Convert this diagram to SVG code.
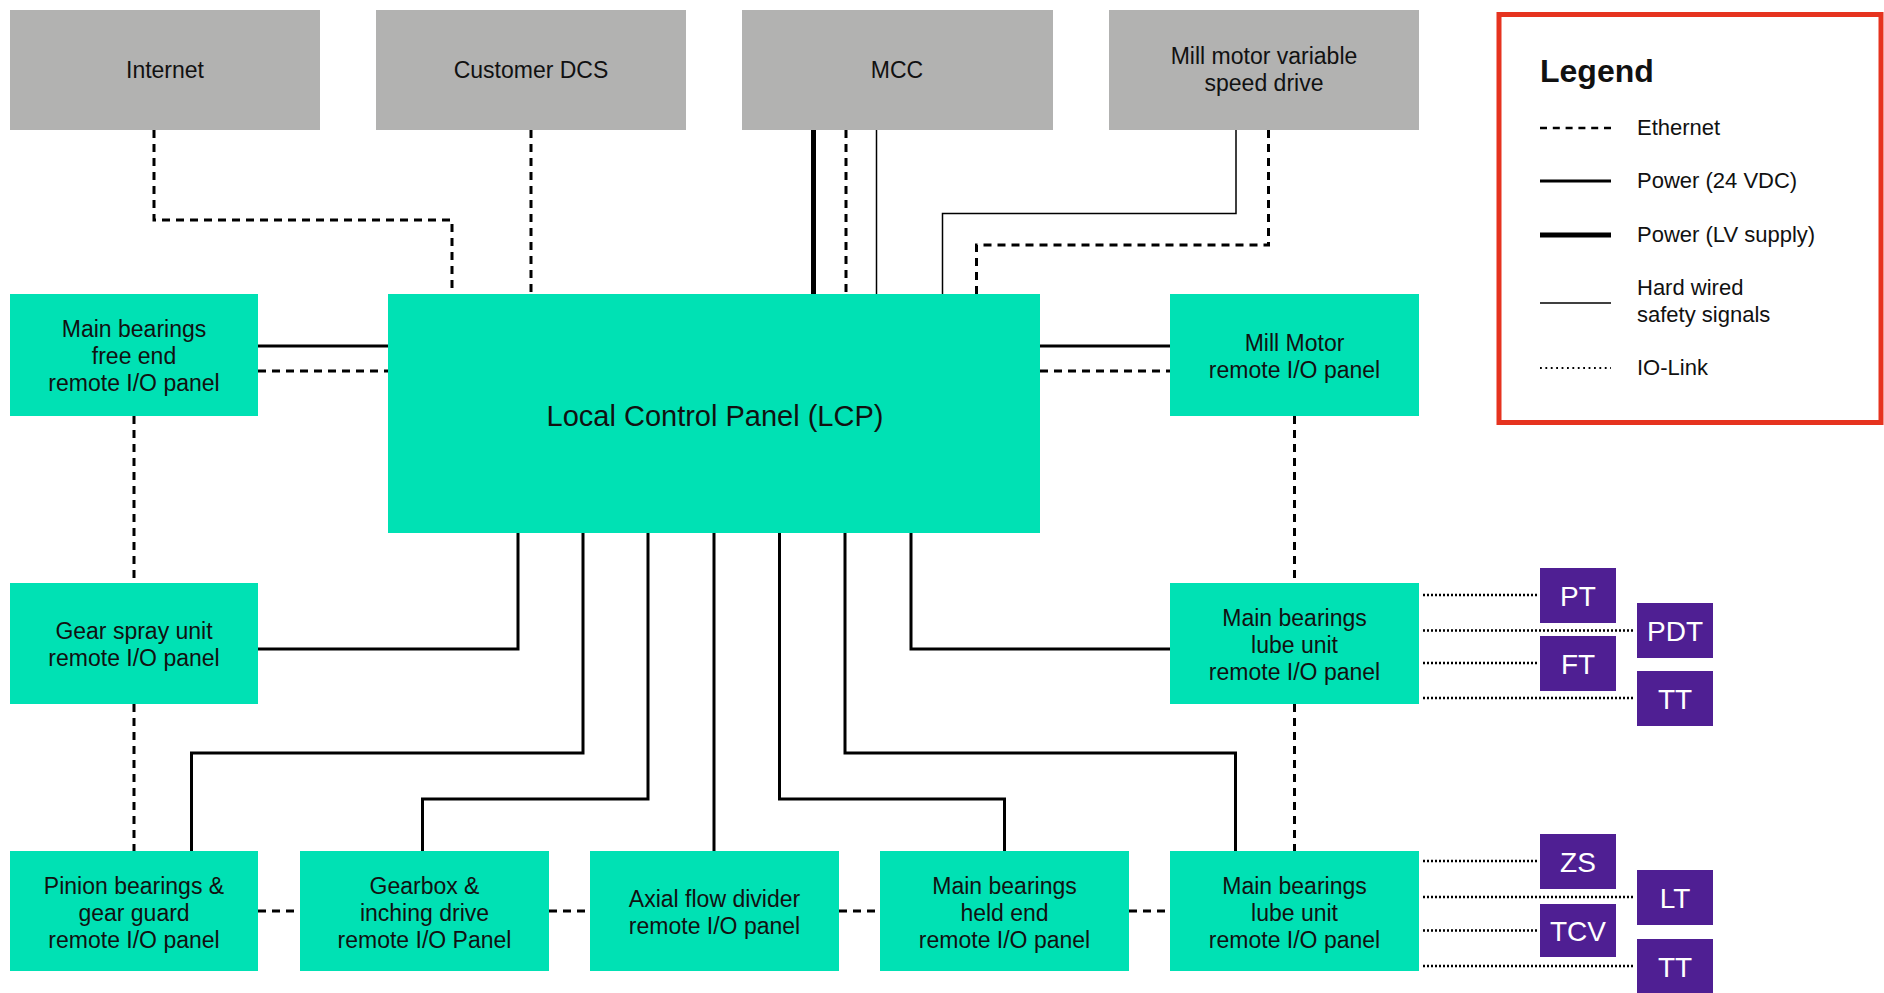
<svg xmlns="http://www.w3.org/2000/svg" width="1884" height="993" viewBox="0 0 1884 993">
<style>
.gray{fill:#b2b2b1}
.teal{fill:#00e1b4}
.purp{fill:#4f1f93}
text{font-family:"Liberation Sans",Arial,sans-serif;fill:#111}
.t{font-size:23px;text-anchor:middle}
.tw{font-size:28px;text-anchor:middle;fill:#fff}
.lg{font-size:22px}
.eth{fill:none;stroke:#000;stroke-width:3;stroke-dasharray:8 6}
.pwr{fill:none;stroke:#000;stroke-width:3}
.lv{fill:none;stroke:#000;stroke-width:5}
.hw{fill:none;stroke:#000;stroke-width:1.5}
.io{fill:none;stroke:#000;stroke-width:2.5;stroke-dasharray:2 2}
</style>
<rect width="1884" height="993" fill="#fff"/>
<g id="connectors">
<path class="eth" d="M154,130 V220 H452 V294"/>
<path class="eth" d="M531,130 V294"/>
<path class="eth" d="M846,130 V294"/>
<path class="eth" d="M1268.5,130 V245 H976.5 V294"/>
<path class="eth" d="M258,371 H388"/>
<path class="eth" d="M1040,371 H1170"/>
<path class="eth" d="M134,416 V583"/>
<path class="eth" d="M134,704 V851"/>
<path class="eth" d="M1294.5,416 V583"/>
<path class="eth" d="M1294.5,704 V851"/>
<path class="eth" d="M258,911 H300"/>
<path class="eth" d="M549,911 H590"/>
<path class="eth" d="M839,911 H880"/>
<path class="eth" d="M1129,911 H1170"/>
<path class="lv" d="M813.5,130 V294"/>
<path class="hw" d="M876.5,130 V294"/>
<path class="hw" d="M1236,130 V213.5 H942.5 V294"/>
<path class="pwr" d="M258,346 H388"/>
<path class="pwr" d="M1040,346 H1170"/>
<path class="pwr" d="M518,533 V649 H258"/>
<path class="pwr" d="M583,533 V753 H191.5 V851"/>
<path class="pwr" d="M648,533 V799 H422.5 V851"/>
<path class="pwr" d="M714,533 V851"/>
<path class="pwr" d="M779.5,533 V799 H1004.5 V851"/>
<path class="pwr" d="M845,533 V753 H1235.5 V851"/>
<path class="pwr" d="M911,533 V649 H1170"/>
<path class="io" d="M1423,595 H1538"/>
<path class="io" d="M1423,630.5 H1635"/>
<path class="io" d="M1423,663 H1538"/>
<path class="io" d="M1423,698 H1635"/>
<path class="io" d="M1423,861 H1538"/>
<path class="io" d="M1423,897 H1635"/>
<path class="io" d="M1423,930.5 H1538"/>
<path class="io" d="M1423,966 H1635"/>
</g>
<g id="internet"><rect class="gray" x="10" y="10" width="310" height="120"/><text class="t" x="165" y="78">Internet</text></g>
<g id="customer-dcs"><rect class="gray" x="376" y="10" width="310" height="120"/><text class="t" x="531" y="78">Customer DCS</text></g>
<g id="mcc"><rect class="gray" x="742" y="10" width="311" height="120"/><text class="t" x="897" y="78">MCC</text></g>
<g id="mill-vsd"><rect class="gray" x="1109" y="10" width="310" height="120"/><text class="t" x="1264" y="64">Mill motor variable</text><text class="t" x="1264" y="91">speed drive</text></g>
<g id="lcp"><rect class="teal" x="388" y="294" width="652" height="239"/><text x="715" y="426" style="font-size:29px;text-anchor:middle">Local Control Panel (LCP)</text></g>
<g id="free-end"><rect class="teal" x="10" y="294" width="248" height="122"/><text class="t" x="134" y="337">Main bearings</text><text class="t" x="134" y="364">free end</text><text class="t" x="134" y="391">remote I/O panel</text></g>
<g id="mill-motor"><rect class="teal" x="1170" y="294" width="249" height="122"/><text class="t" x="1294.5" y="350.5">Mill Motor</text><text class="t" x="1294.5" y="377.5">remote I/O panel</text></g>
<g id="gear-spray"><rect class="teal" x="10" y="583" width="248" height="121"/><text class="t" x="134" y="639">Gear spray unit</text><text class="t" x="134" y="666">remote I/O panel</text></g>
<g id="lube-upper"><rect class="teal" x="1170" y="583" width="249" height="121"/><text class="t" x="1294.5" y="626">Main bearings</text><text class="t" x="1294.5" y="653">lube unit</text><text class="t" x="1294.5" y="680">remote I/O panel</text></g>
<g id="pinion"><rect class="teal" x="10" y="851" width="248" height="120"/><text class="t" x="134" y="894">Pinion bearings &amp;</text><text class="t" x="134" y="921">gear guard</text><text class="t" x="134" y="948">remote I/O panel</text></g>
<g id="gearbox"><rect class="teal" x="300" y="851" width="249" height="120"/><text class="t" x="424.5" y="894">Gearbox &amp;</text><text class="t" x="424.5" y="921">inching drive</text><text class="t" x="424.5" y="948">remote I/O Panel</text></g>
<g id="axial"><rect class="teal" x="590" y="851" width="249" height="120"/><text class="t" x="714.5" y="907">Axial flow divider</text><text class="t" x="714.5" y="934">remote I/O panel</text></g>
<g id="held-end"><rect class="teal" x="880" y="851" width="249" height="120"/><text class="t" x="1004.5" y="894">Main bearings</text><text class="t" x="1004.5" y="921">held end</text><text class="t" x="1004.5" y="948">remote I/O panel</text></g>
<g id="lube-lower"><rect class="teal" x="1170" y="851" width="249" height="120"/><text class="t" x="1294.5" y="894">Main bearings</text><text class="t" x="1294.5" y="921">lube unit</text><text class="t" x="1294.5" y="948">remote I/O panel</text></g>
<g id="pt"><rect class="purp" x="1540" y="568" width="76" height="55"/><text class="tw" x="1578" y="606">PT</text></g>
<g id="pdt"><rect class="purp" x="1637" y="603" width="76" height="55"/><text class="tw" x="1675" y="641">PDT</text></g>
<g id="ft"><rect class="purp" x="1540" y="636" width="76" height="55"/><text class="tw" x="1578" y="674">FT</text></g>
<g id="tt1"><rect class="purp" x="1637" y="671" width="76" height="55"/><text class="tw" x="1675" y="709">TT</text></g>
<g id="zs"><rect class="purp" x="1540" y="834" width="76" height="55"/><text class="tw" x="1578" y="872">ZS</text></g>
<g id="lt"><rect class="purp" x="1637" y="870" width="76" height="55"/><text class="tw" x="1675" y="908">LT</text></g>
<g id="tcv"><rect class="purp" x="1540" y="904" width="76" height="53"/><text class="tw" x="1578" y="941">TCV</text></g>
<g id="tt2"><rect class="purp" x="1637" y="939" width="76" height="54"/><text class="tw" x="1675" y="977">TT</text></g>
<g id="legend">
<rect x="1499" y="14.5" width="382" height="408" fill="none" stroke="#e6331f" stroke-width="5"/>
<text x="1540" y="82" style="font-size:32px;font-weight:bold">Legend</text>
<path d="M1540,128 H1611" fill="none" stroke="#000" stroke-width="2.5" stroke-dasharray="7 5.8"/>
<text class="lg" x="1637" y="135">Ethernet</text>
<path d="M1540,181 H1611" class="pwr"/>
<text class="lg" x="1637" y="188">Power (24 VDC)</text>
<path d="M1540,235 H1611" class="lv"/>
<text class="lg" x="1637" y="242">Power (LV supply)</text>
<path d="M1540,303 H1611" class="hw"/>
<text class="lg" x="1637" y="295">Hard wired</text>
<text class="lg" x="1637" y="322">safety signals</text>
<path d="M1540,368 H1611" fill="none" stroke="#000" stroke-width="2" stroke-dasharray="1.8 3.6"/>
<text class="lg" x="1637" y="375">IO-Link</text>
</g>
</svg>
